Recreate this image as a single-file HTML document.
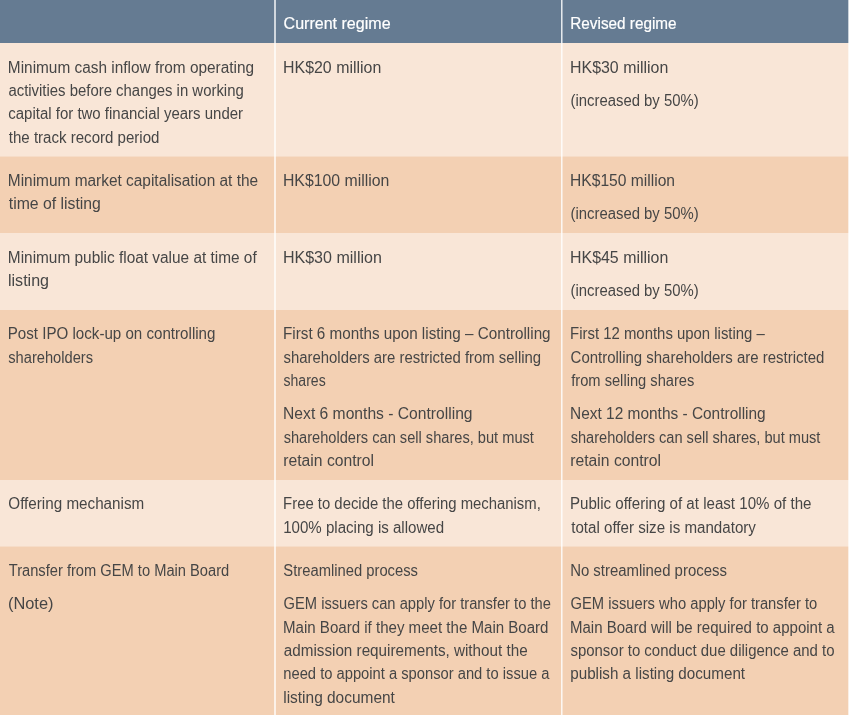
<!DOCTYPE html>
<html><head><meta charset="utf-8"><title>Regime comparison</title>
<style>
html,body{margin:0;padding:0;background:#fff;}
body{width:849px;height:715px;position:relative;overflow:hidden;font-family:"Liberation Sans",sans-serif;}
.r{position:absolute;left:0;width:849px;}
.v{position:absolute;top:0;height:715px;width:1px;background:#fff;}
.l{position:absolute;left:0;top:0;white-space:nowrap;font-size:16.0px;line-height:20px;height:20px;color:#464646;transform-origin:0 0;}
.h{color:#fff;-webkit-text-stroke:0.2px #fff;}
#t{position:absolute;left:0;top:0;width:849px;height:715px;will-change:transform;}
</style></head><body>
<div class="r" style="top:0px;height:43px;background:#657b92"></div>
<div class="r" style="top:43px;height:113px;background:#f9e6d7"></div>
<div class="r" style="top:156px;height:1px;background:#f6dcc7"></div>
<div class="r" style="top:157px;height:76px;background:#f3d0b3"></div>
<div class="r" style="top:233px;height:77px;background:#f9e6d7"></div>
<div class="r" style="top:310px;height:170px;background:#f3d0b3"></div>
<div class="r" style="top:480px;height:66px;background:#f9e6d7"></div>
<div class="r" style="top:546px;height:1px;background:#f6dcc7"></div>
<div class="r" style="top:547px;height:168px;background:#f3d0b3"></div>
<div class="v" style="left:274px;opacity:.7"></div>
<div class="v" style="left:275px;opacity:.7"></div>
<div class="v" style="left:561px;opacity:.83"></div>
<div class="v" style="left:562px;opacity:.45"></div>
<div class="v" style="left:848px;opacity:.66"></div>
<div id="t">
<div class="l h" style="transform:translate(283.55px,14px) scaleX(1.0030)">Current regime</div>
<div class="l h" style="transform:translate(570.28px,14px) scaleX(0.9562)">Revised regime</div>
<div class="l " style="transform:translate(7.85px,58px) scaleX(0.9614)">Minimum cash inflow from operating</div>
<div class="l " style="transform:translate(8.39px,81px) scaleX(0.9318)">activities before changes in working</div>
<div class="l " style="transform:translate(8.30px,104px) scaleX(0.9360)">capital for two financial years under</div>
<div class="l " style="transform:translate(8.81px,128px) scaleX(0.9408)">the track record period</div>
<div class="l " style="transform:translate(283.05px,58px) scaleX(0.9946)">HK$20 million</div>
<div class="l " style="transform:translate(570.05px,58px) scaleX(0.9946)">HK$30 million</div>
<div class="l " style="transform:translate(570.47px,91px) scaleX(0.9299)">(increased by 50%)</div>
<div class="l " style="transform:translate(7.82px,171px) scaleX(0.9638)">Minimum market capitalisation at the</div>
<div class="l " style="transform:translate(8.74px,194px) scaleX(0.9865)">time of listing</div>
<div class="l " style="transform:translate(282.94px,171px) scaleX(0.9885)">HK$100 million</div>
<div class="l " style="transform:translate(570.09px,171px) scaleX(0.9753)">HK$150 million</div>
<div class="l " style="transform:translate(570.47px,204px) scaleX(0.9299)">(increased by 50%)</div>
<div class="l " style="transform:translate(7.84px,248px) scaleX(0.9617)">Minimum public float value at time of</div>
<div class="l " style="transform:translate(7.98px,271px) scaleX(1.0027)">listing</div>
<div class="l " style="transform:translate(282.91px,248px) scaleX(1.0024)">HK$30 million</div>
<div class="l " style="transform:translate(570.05px,248px) scaleX(0.9946)">HK$45 million</div>
<div class="l " style="transform:translate(570.47px,281px) scaleX(0.9299)">(increased by 50%)</div>
<div class="l " style="transform:translate(7.78px,324px) scaleX(0.9453)">Post IPO lock-up on controlling</div>
<div class="l " style="transform:translate(8.25px,348px) scaleX(0.9169)">shareholders</div>
<div class="l " style="transform:translate(283.01px,324px) scaleX(0.9521)">First 6 months upon listing – Controlling</div>
<div class="l " style="transform:translate(283.50px,348px) scaleX(0.9315)">shareholders are restricted from selling</div>
<div class="l " style="transform:translate(283.51px,371px) scaleX(0.8784)">shares</div>
<div class="l " style="transform:translate(283.08px,404px) scaleX(0.9774)">Next 6 months - Controlling</div>
<div class="l " style="transform:translate(283.63px,428px) scaleX(0.9136)">shareholders can sell shares, but must</div>
<div class="l " style="transform:translate(283.30px,451px) scaleX(0.9802)">retain control</div>
<div class="l " style="transform:translate(570.12px,324px) scaleX(0.9316)">First 12 months upon listing –</div>
<div class="l " style="transform:translate(570.61px,348px) scaleX(0.9353)">Controlling shareholders are restricted</div>
<div class="l " style="transform:translate(571.21px,371px) scaleX(0.9169)">from selling shares</div>
<div class="l " style="transform:translate(570.10px,404px) scaleX(0.9645)">Next 12 months - Controlling</div>
<div class="l " style="transform:translate(570.63px,428px) scaleX(0.9119)">shareholders can sell shares, but must</div>
<div class="l " style="transform:translate(570.30px,451px) scaleX(0.9802)">retain control</div>
<div class="l " style="transform:translate(8.29px,494px) scaleX(0.9512)">Offering mechanism</div>
<div class="l " style="transform:translate(283.11px,494px) scaleX(0.9298)">Free to decide the offering mechanism,</div>
<div class="l " style="transform:translate(283.14px,518px) scaleX(0.9426)">100% placing is allowed</div>
<div class="l " style="transform:translate(569.99px,494px) scaleX(0.9436)">Public offering of at least 10% of the</div>
<div class="l " style="transform:translate(571.18px,518px) scaleX(0.9456)">total offer size is mandatory</div>
<div class="l " style="transform:translate(8.74px,561px) scaleX(0.9172)">Transfer from GEM to Main Board</div>
<div class="l " style="transform:translate(7.93px,594px) scaleX(1.0244)">(Note)</div>
<div class="l " style="transform:translate(283.35px,561px) scaleX(0.9230)">Streamlined process</div>
<div class="l " style="transform:translate(283.55px,594px) scaleX(0.9194)">GEM issuers can apply for transfer to the</div>
<div class="l " style="transform:translate(282.99px,618px) scaleX(0.9418)">Main Board if they meet the Main Board</div>
<div class="l " style="transform:translate(283.73px,641px) scaleX(0.9525)">admission requirements, without the</div>
<div class="l " style="transform:translate(283.29px,664px) scaleX(0.9205)">need to appoint a sponsor and to issue a</div>
<div class="l " style="transform:translate(283.21px,688px) scaleX(0.9660)">listing document</div>
<div class="l " style="transform:translate(570.14px,561px) scaleX(0.9324)">No streamlined process</div>
<div class="l " style="transform:translate(570.54px,594px) scaleX(0.9220)">GEM issuers who apply for transfer to</div>
<div class="l " style="transform:translate(570.01px,618px) scaleX(0.9385)">Main Board will be required to appoint a</div>
<div class="l " style="transform:translate(570.48px,641px) scaleX(0.9333)">sponsor to conduct due diligence and to</div>
<div class="l " style="transform:translate(570.27px,664px) scaleX(0.9493)">publish a listing document</div>
</div>
</body></html>
